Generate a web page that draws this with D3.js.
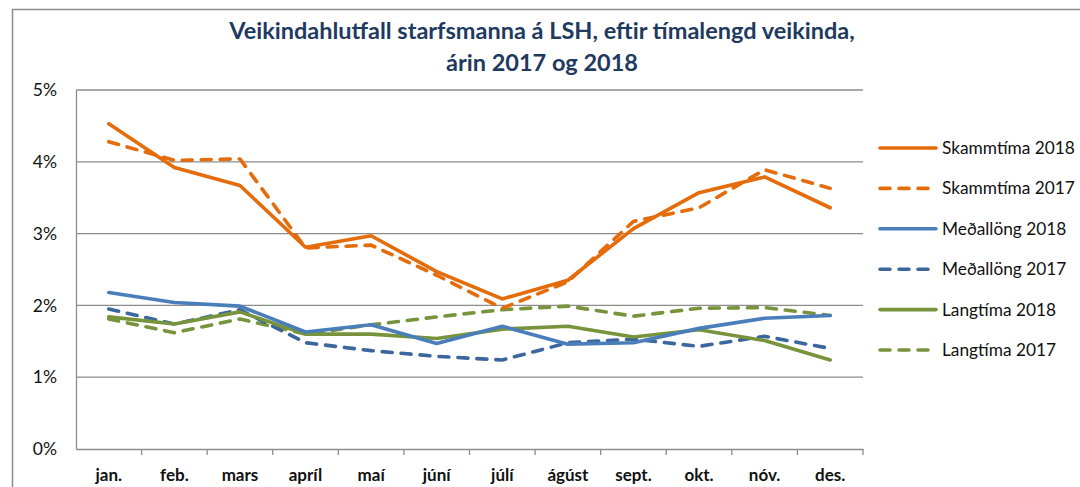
<!DOCTYPE html>
<html lang="is">
<head>
<meta charset="UTF-8">
<title>Veikindahlutfall starfsmanna á LSH</title>
<script src="https://d3js.org/d3.v7.min.js"></script>
<style>
  body { margin: 0; background: #fff; }
  svg { display: block; font-family: Lato, "Open Sans", sans-serif; }
</style>
</head>
<body>
<div id="chart"></div>
<script>
// months on the x axis
const months = ["jan.", "feb.", "mars", "apríl", "maí", "júní", "júlí", "ágúst", "sept.", "okt.", "nóv.", "des."];
const yTicks = [0, 1, 2, 3, 4, 5];

// values in %
const skammtima2018 = [4.53, 3.92, 3.67, 2.81, 2.97, 2.47, 2.09, 2.35, 3.07, 3.57, 3.79, 3.36];
const skammtima2017 = [4.28, 4.02, 4.04, 2.80, 2.84, 2.42, 1.96, 2.33, 3.17, 3.36, 3.89, 3.63];
const medallong2018 = [2.18, 2.04, 1.99, 1.63, 1.73, 1.47, 1.71, 1.46, 1.48, 1.68, 1.82, 1.86];
const medallong2017 = [1.95, 1.74, 1.94, 1.48, 1.37, 1.29, 1.24, 1.48, 1.53, 1.43, 1.57, 1.40];
const langtima2018 = [1.84, 1.74, 1.91, 1.60, 1.60, 1.54, 1.67, 1.71, 1.56, 1.66, 1.51, 1.24];
const langtima2017 = [1.81, 1.62, 1.81, 1.60, 1.73, 1.84, 1.94, 1.99, 1.85, 1.96, 1.97, 1.86];

const series = [
  { name: "Skammtíma 2018", values: skammtima2018, color: "#E46C0A", dashed: false },
  { name: "Skammtíma 2017", values: skammtima2017, color: "#E46C0A", dashed: true },
  { name: "Meðallöng 2018", values: medallong2018, color: "#4A7EBB", dashed: false },
  { name: "Meðallöng 2017", values: medallong2017, color: "#3B679E", dashed: true },
  { name: "Langtíma 2018", values: langtima2018, color: "#77933C", dashed: false },
  { name: "Langtíma 2017", values: langtima2017, color: "#77933C", dashed: true }
];

const width = 1080, height = 487;
const margin = { top: 90, right: 217, bottom: 38, left: 76 };

const svg = d3.select("#chart").append("svg")
  .attr("width", width)
  .attr("height", height);

// outer chart border
svg.append("rect")
  .attr("x", 12.5).attr("y", 9.5)
  .attr("width", width + 20).attr("height", height + 20)
  .attr("fill", "none")
  .attr("stroke", "#8c8c8c")
  .attr("stroke-width", 1.5);

// title
const title = svg.append("text")
  .attr("text-anchor", "middle")
  .attr("fill", "#1F3A5F")
  .attr("font-weight", "bold")
  .attr("font-size", 23.5);
title.append("tspan").attr("x", 542).attr("y", 39).text("Veikindahlutfall starfsmanna á LSH, eftir tímalengd veikinda,");
title.append("tspan").attr("x", 542).attr("y", 71).text("árin 2017 og 2018");

const x = d3.scaleBand()
  .domain(months)
  .range([margin.left, width - margin.right]);

const y = d3.scaleLinear()
  .domain([0, 5])
  .range([height - margin.bottom, margin.top]);

// gridlines
svg.append("g")
  .selectAll("line")
  .data(yTicks.slice(1))
  .enter().append("line")
  .attr("x1", margin.left)
  .attr("x2", width - margin.right)
  .attr("y1", d => y(d))
  .attr("y2", d => y(d))
  .attr("stroke", "#8c8c8c")
  .attr("stroke-width", 1.3);

// y axis
const yAxis = svg.append("g")
  .attr("transform", `translate(${margin.left},0)`)
  .call(d3.axisLeft(y).tickValues(yTicks).tickFormat(d => d + "%").tickSize(0).tickPadding(19));
yAxis.select(".domain").attr("stroke", "#8c8c8c").attr("stroke-width", 1.3);
yAxis.selectAll("text").attr("font-size", 17.5).attr("fill", "#111").attr("font-family", "Lato, sans-serif");

// x axis
const xAxis = svg.append("g")
  .attr("transform", `translate(0,${height - margin.bottom})`)
  .call(d3.axisBottom(x).tickSize(0).tickPadding(20).tickSizeOuter(0));
xAxis.select(".domain").attr("stroke", "#8c8c8c").attr("stroke-width", 1.3);
xAxis.selectAll("text")
  .attr("font-size", 17)
  .attr("font-weight", "bold")
  .attr("fill", "#111")
  .attr("font-family", "Lato, sans-serif");

// tick marks at category boundaries
xAxis.append("g")
  .selectAll("line")
  .data(months.slice(1).concat(["end"]))
  .enter().append("line")
  .attr("x1", (d, i) => x.range()[0] + x.step() * (i + 1))
  .attr("x2", (d, i) => x.range()[0] + x.step() * (i + 1))
  .attr("y1", 0)
  .attr("y2", 6)
  .attr("stroke", "#8c8c8c")
  .attr("stroke-width", 1.3);

// lines
const line = d3.line()
  .x((d, i) => x(months[i]) + x.bandwidth() / 2)
  .y(d => y(d));

const drawOrder = [5, 3, 4, 2, 1, 0];
svg.append("g")
  .selectAll("path")
  .data(drawOrder.map(i => series[i]))
  .enter().append("path")
  .attr("d", d => line(d.values))
  .attr("fill", "none")
  .attr("stroke", d => d.color)
  .attr("stroke-width", 3.6)
  .attr("stroke-linecap", "round")
  .attr("stroke-linejoin", "round")
  .attr("stroke-dasharray", d => d.dashed ? "10,9" : null);

// legend
const legend = svg.append("g")
  .selectAll("g")
  .data(series)
  .enter().append("g")
  .attr("transform", (d, i) => `translate(880,${148 + i * 40.4})`);

legend.append("line")
  .attr("x1", 0).attr("x2", 56)
  .attr("y1", 0).attr("y2", 0)
  .attr("stroke", d => d.color)
  .attr("stroke-width", 3.6)
  .attr("stroke-linecap", "round")
  .attr("stroke-dasharray", d => d.dashed ? "10,9" : null);

legend.append("text")
  .attr("x", 62)
  .attr("y", 0)
  .attr("dy", "0.35em")
  .attr("font-size", 17.3)
  .attr("fill", "#111")
  .text(d => d.name);
</script>
</body>
</html>
